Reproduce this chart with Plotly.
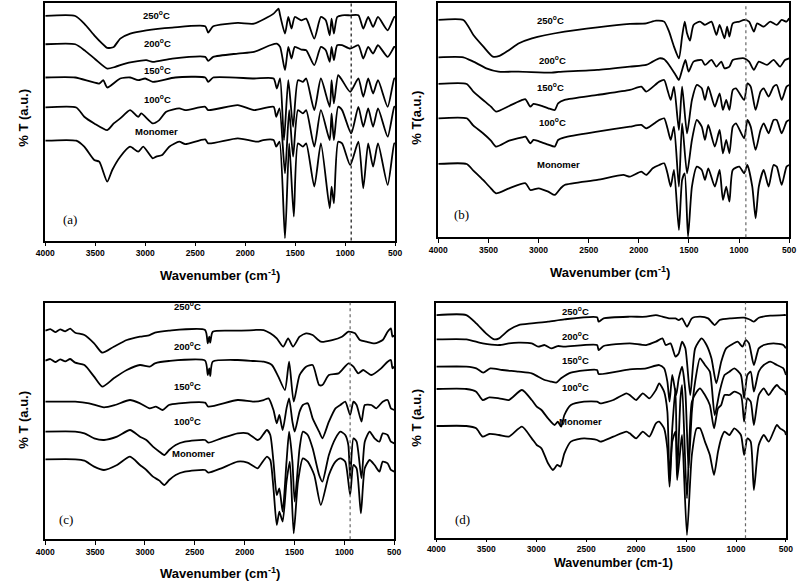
import plotly.graph_objects as go

# ---------------- data (wavenumber cm-1, %T in arbitrary units) ----------------
wn_ticks = [4000, 3500, 3000, 2500, 2000, 1500, 1000, 500]
label_texts = ["250<sup>o</sup>C", "200<sup>o</sup>C", "150<sup>o</sup>C", "100<sup>o</sup>C", "Monomer"]
panel_tags = ["(a)", "(b)", "(c)", "(d)"]
marker_wn = [940, 932, 942, 905]

# panel (a)
a_250 = [(4000,675),(3700,675),(3610,652),(3510,617),(3430,592),(3380,579),(3315,582),(3250,607),(3150,622),(2990,632),(2730,640),(2400,644),(2370,625),(2320,644),(2075,654),(1912,652),(1716,682),(1667,697),(1651,677),(1602,622),(1569,672),(1537,637),(1504,672),(1439,662),(1390,667),(1309,607),(1243,672),(1194,662),(1155,617),(1136,667),(1113,622),(1080,672),(1031,677),(950,677),(868,677),(819,637),(770,672),(721,642),(672,672),(575,632),(509,672),(500,672)]
a_200 = [(4000,590),(3700,590),(3600,570),(3500,545),(3380,517),(3300,522),(3200,532),(3120,537),(2990,542),(2925,537),(2730,547),(2400,552),(2370,540),(2320,552),(2075,562),(1912,567),(1750,587),(1684,592),(1651,582),(1602,512),(1569,582),(1537,547),(1504,582),(1439,574),(1390,572),(1309,527),(1243,582),(1194,572),(1155,537),(1136,582),(1113,542),(1080,587),(1031,587),(950,577),(868,587),(819,547),(770,582),(721,562),(672,587),(575,552),(509,582),(500,582)]
a_150 = [(4000,490),(3700,490),(3460,472),(3420,482),(3380,460),(3250,487),(3150,490),(3070,482),(3000,487),(2925,477),(2700,490),(2400,490),(2370,477),(2320,490),(1912,487),(1716,487),(1684,457),(1651,487),(1612,302),(1569,482),(1521,342),(1472,482),(1423,477),(1390,487),(1309,392),(1243,487),(1155,402),(1136,482),(1113,412),(1070,497),(1031,482),(950,447),(868,487),(819,432),(770,487),(721,442),(672,482),(575,402),(509,487),(500,487)]
a_100 = [(4000,400),(3690,400),(3610,372),(3510,352),(3380,332),(3315,352),(3250,367),(3152,392),(3070,372),(3040,382),(2925,352),(2860,362),(2790,387),(2660,397),(2600,392),(2400,402),(2370,392),(2075,407),(1912,392),(1716,402),(1690,372),(1657,397),(1602,202),(1560,392),(1521,252),(1472,392),(1423,382),(1390,392),(1309,282),(1243,392),(1155,302),(1136,382),(1113,302),(1070,402),(1031,392),(940,322),(868,402),(819,342),(770,397),(721,342),(672,397),(575,312),(509,402),(500,402)]
a_mon = [(4000,300),(3690,300),(3610,282),(3510,242),(3460,237),(3380,177),(3330,212),(3250,252),(3152,282),(3070,267),(3020,282),(2925,247),(2890,252),(2830,257),(2760,282),(2660,297),(2600,290),(2400,304),(2370,292),(2075,307),(1880,297),(1820,302),(1716,302),(1690,282),(1657,297),(1602,7),(1560,292),(1514,72),(1472,292),(1423,282),(1390,292),(1309,162),(1243,292),(1155,97),(1136,162),(1113,112),(1070,297),(1031,292),(950,227),(868,297),(819,157),(770,292),(721,222),(672,292),(575,167),(509,292),(500,292)]

# panel (b)
b_250 = [(4000,652),(3750,652),(3650,607),(3550,572),(3456,542),(3390,544),(3293,562),(3195,582),(3066,597),(2740,617),(2414,630),(2089,640),(1926,642),(1828,650),(1747,647),(1698,617),(1649,572),(1600,537),(1568,602),(1542,647),(1519,612),(1490,590),(1454,637),(1390,647),(1340,637),(1275,647),(1226,607),(1194,637),(1145,597),(1119,632),(1096,602),(1063,642),(998,647),(949,652),(900,647),(852,617),(819,642),(754,632),(689,647),(624,637),(575,652),(526,647),(500,657)]
b_200 = [(4000,540),(3750,540),(3650,527),(3521,507),(3400,497),(3200,497),(2870,494),(2800,496),(2414,502),(2089,512),(1926,517),(1861,527),(1796,537),(1747,534),(1698,517),(1633,487),(1600,472),(1568,502),(1535,532),(1503,497),(1454,527),(1372,532),(1340,517),(1275,532),(1226,512),(1177,527),(1145,507),(1096,512),(1063,532),(949,537),(900,527),(852,502),(803,527),(721,517),(656,532),(591,512),(542,532),(500,537)]
b_150 = [(4000,460),(3717,460),(3650,437),(3554,412),(3475,392),(3424,377),(3293,394),(3163,412),(3130,414),(3082,392),(3050,400),(2968,394),(2903,387),(2838,382),(2805,402),(2740,412),(2414,427),(2089,442),(1975,452),(1926,437),(1796,467),(1747,472),(1714,442),(1682,412),(1649,452),(1600,322),(1568,452),(1519,312),(1470,412),(1421,457),(1372,447),(1340,412),(1307,452),(1242,392),(1194,432),(1161,382),(1128,412),(1096,382),(1063,442),(1031,447),(949,412),(917,462),(884,452),(835,382),(786,437),(754,447),(705,422),(656,452),(624,457),(575,412),(526,452),(500,457)]
b_100 = [(4000,357),(3717,357),(3650,335),(3554,312),(3475,290),(3424,272),(3293,290),(3163,300),(3130,302),(3082,282),(3050,292),(2968,285),(2903,278),(2838,272),(2805,292),(2740,300),(2414,317),(2089,332),(1975,337),(1926,327),(1796,352),(1747,357),(1714,327),(1682,292),(1649,332),(1600,152),(1568,342),(1519,192),(1470,292),(1421,352),(1372,332),(1340,292),(1307,337),(1242,272),(1194,322),(1161,252),(1128,292),(1096,252),(1063,332),(1031,342),(949,297),(917,352),(884,332),(835,262),(786,322),(754,342),(705,312),(656,352),(624,352),(575,312),(526,347),(500,352)]
b_mon = [(4000,220),(3717,220),(3650,200),(3554,172),(3475,147),(3424,132),(3293,147),(3130,162),(3082,142),(3000,147),(2903,137),(2838,127),(2780,147),(2740,157),(2414,172),(2154,187),(2089,182),(1975,197),(1926,187),(1861,207),(1796,217),(1747,222),(1714,192),(1682,152),(1649,202),(1600,22),(1568,172),(1542,192),(1509,2),(1470,152),(1421,212),(1372,202),(1340,172),(1307,207),(1242,152),(1194,202),(1161,112),(1128,152),(1096,107),(1063,202),(998,212),(949,192),(917,217),(868,152),(835,57),(803,152),(754,202),(705,152),(656,217),(624,212),(575,157),(526,212),(500,217)]

# panel (c)
c_250 = [(4000,626),(3950,631),(3900,622),(3850,630),(3800,624),(3750,632),(3700,620),(3607,613),(3510,588),(3428,560),(3313,578),(3182,598),(3050,608),(2953,613),(2900,620),(2760,626),(2397,628),(2370,588),(2355,608),(2345,590),(2320,623),(2070,626),(1907,628),(1809,628),(1743,618),(1678,603),(1613,578),(1564,603),(1515,578),(1449,608),(1384,618),(1318,613),(1236,593),(1122,598),(1024,608),(958,623),(893,618),(844,598),(779,593),(697,588),(615,598),(566,623),(533,633),(517,608),(500,612)]
c_200 = [(4000,536),(3950,541),(3900,532),(3850,540),(3800,534),(3750,541),(3700,530),(3607,523),(3510,488),(3428,458),(3313,483),(3182,508),(3050,523),(2953,518),(2900,528),(2760,535),(2397,536),(2370,493),(2355,513),(2345,490),(2320,533),(2070,538),(1907,535),(1809,533),(1727,523),(1662,488),(1596,448),(1554,533),(1508,413),(1449,493),(1384,518),(1318,523),(1253,463),(1220,463),(1155,493),(1057,498),(958,528),(909,518),(860,498),(811,508),(730,493),(631,513),(566,533),(533,538),(517,513),(500,518)]
c_150 = [(4000,413),(3700,413),(3560,408),(3411,396),(3300,403),(3150,418),(3050,408),(2953,393),(2890,398),(2822,388),(2760,403),(2660,408),(2397,410),(2365,398),(2070,418),(1907,413),(1809,418),(1760,423),(1711,388),(1678,348),(1652,373),(1619,328),(1580,393),(1554,423),(1521,353),(1498,323),(1449,383),(1416,403),(1367,408),(1318,363),(1253,323),(1220,303),(1155,353),(1089,393),(1040,403),(991,413),(942,373),(909,413),(877,403),(828,353),(795,403),(729,403),(680,393),(615,413),(566,418),(533,393),(500,388)]
c_100 = [(4000,323),(3700,323),(3607,318),(3510,303),(3411,298),(3280,308),(3150,328),(3050,308),(2986,298),(2920,278),(2855,263),(2806,253),(2757,268),(2692,283),(2600,293),(2397,298),(2365,290),(2234,303),(2070,318),(1972,318),(1870,298),(1842,303),(1776,328),(1743,313),(1711,233),(1678,133),(1652,153),(1619,83),(1580,233),(1554,323),(1521,233),(1498,113),(1449,273),(1416,323),(1367,313),(1318,273),(1253,193),(1220,173),(1155,253),(1089,303),(1040,323),(991,313),(960,283),(942,183),(909,303),(877,293),(828,183),(795,293),(746,323),(697,303),(648,293),(615,318),(566,313),(533,293),(500,288)]
c_mon = [(4000,240),(3700,240),(3607,236),(3510,218),(3411,208),(3280,223),(3150,248),(3050,223),(2986,208),(2920,188),(2855,176),(2806,163),(2757,178),(2692,193),(2600,203),(2397,208),(2365,200),(2234,213),(2070,233),(1972,230),(1870,213),(1842,223),(1776,248),(1743,238),(1711,153),(1678,43),(1652,83),(1619,53),(1580,173),(1547,233),(1508,18),(1465,173),(1416,243),(1367,233),(1302,193),(1236,103),(1155,193),(1089,233),(1040,243),(991,233),(942,133),(909,223),(877,213),(834,78),(795,213),(746,238),(697,223),(648,203),(615,233),(566,228),(533,208),(500,203)]

# panel (d)
d_250 = [(4000,670),(3700,670),(3601,645),(3503,615),(3421,597),(3372,600),(3274,625),(3176,640),(3045,645),(2882,650),(2718,657),(2391,663),(2375,650),(2325,660),(2064,665),(1900,665),(1802,670),(1736,665),(1671,660),(1606,660),(1573,655),(1540,660),(1491,635),(1442,660),(1360,665),(1279,660),(1213,640),(1164,655),(1049,660),(919,662),(853,655),(821,650),(772,662),(657,668),(526,670),(500,670)]
d_200 = [(4000,597),(3700,597),(3536,585),(3372,580),(3274,585),(3176,587),(3045,585),(2980,575),(2915,580),(2849,570),(2784,577),(2718,575),(2391,580),(2375,565),(2325,577),(2064,585),(1900,580),(1802,590),(1736,600),(1704,580),(1655,585),(1606,545),(1573,555),(1540,590),(1507,570),(1458,430),(1409,570),(1344,600),(1295,580),(1246,540),(1197,465),(1148,530),(1099,570),(1050,580),(984,590),(935,575),(902,595),(870,585),(821,520),(772,570),(722,580),(624,585),(526,580),(500,570)]
d_150 = [(4000,515),(3700,515),(3600,510),(3530,497),(3460,510),(3340,505),(3176,500),(3045,495),(2980,485),(2915,475),(2849,470),(2800,467),(2751,480),(2653,497),(2391,505),(2375,493),(2064,507),(1900,510),(1769,520),(1720,510),(1687,470),(1665,410),(1638,490),(1599,430),(1573,480),(1540,515),(1507,440),(1475,210),(1442,380),(1409,470),(1360,540),(1311,520),(1262,500),(1213,370),(1164,440),(1115,490),(1066,500),(1017,510),(951,490),(919,420),(886,490),(853,500),(821,440),(772,500),(722,520),(657,530),(591,520),(526,510),(500,490)]
d_100 = [(4000,448),(3700,448),(3601,440),(3536,415),(3470,423),(3372,420),(3274,415),(3143,445),(3045,415),(2995,395),(2948,385),(2882,360),(2816,340),(2784,350),(2751,335),(2718,370),(2653,400),(2522,410),(2391,410),(2358,405),(2228,415),(2097,435),(2064,430),(2000,415),(1933,435),(1867,420),(1802,445),(1769,465),(1720,440),(1687,380),(1665,170),(1638,330),(1606,450),(1589,190),(1556,420),(1540,460),(1491,120),(1442,410),(1393,440),(1360,450),(1311,430),(1262,400),(1220,330),(1180,390),(1148,400),(1115,430),(1066,430),(1017,440),(951,430),(919,350),(886,420),(853,410),(821,340),(772,430),(722,450),(673,430),(624,450),(591,460),(559,450),(510,440),(500,430)]
d_mon = [(4000,337),(3700,337),(3601,330),(3536,305),(3470,313),(3372,310),(3274,305),(3143,335),(3045,300),(2995,280),(2948,270),(2882,225),(2832,205),(2790,220),(2757,215),(2718,255),(2653,290),(2522,300),(2391,295),(2358,290),(2228,305),(2097,320),(2064,315),(2000,300),(1933,320),(1867,305),(1802,345),(1769,350),(1720,330),(1687,270),(1665,155),(1638,290),(1606,320),(1589,175),(1556,270),(1540,310),(1491,10),(1442,250),(1393,330),(1360,330),(1311,290),(1262,250),(1220,190),(1180,260),(1148,300),(1115,320),(1066,310),(1017,330),(951,310),(919,250),(886,300),(853,290),(821,145),(772,280),(722,310),(673,290),(624,320),(591,340),(559,330),(510,320),(500,310)]

panel_series = [
    [a_250, a_200, a_150, a_100, a_mon],
    [b_250, b_200, b_150, b_100, b_mon],
    [c_250, c_200, c_150, c_100, c_mon],
    [d_250, d_200, d_150, d_100, d_mon],
]

# ---------------- layout config ----------------
W, H = 805, 584
# plot boxes in pixels: left, right, top, bottom
boxes = [(37, 394, 3, 240.5), (438, 796, 3.3, 237.3), (37, 393, 302.7, 539.3), (436, 792.7, 302.7, 538.3)]
y_ranges = [[0, 714], [0, 702], [0, 710], [0, 707]]
label_pos = [
    ([2884, 2875, 2875, 2875, 2884], [677, 594, 514, 424, 327]),
    ([2880, 2864, 2880, 2864, 2805], [652, 532, 452, 347, 217]),
    ([2577, 2577, 2577, 2577, 2512], [700, 580, 460, 355, 258]),
    ([2603, 2603, 2603, 2603, 2554], [683, 607, 535, 453, 350]),
]
tag_pos = [(3755, 62), (3772, 69), (3787, 60), (3742, 57)]
xtitles = ["Wavenumber (cm<sup>-1</sup>)", "Wavenumber (cm<sup>-1</sup>)",
           "Wavenumber (cm<sup>-1</sup>)", "Wavenumber (cm-1)"]
xtitle_px = [(215, 275), (613, 272), (215, 573), (617, 563)]
xtitle_size = [13, 13, 13, 12.5]
ytitles = ["% T (a.u.)", "% T(a.u.)", "% T (a.u.)", "% T (a.u.)"]
ytitle_px = [(14, 118), (415, 118), (14, 420), (415, 418)]
tick_len = [4, 4, 4, 2]
marker_color = ["#111111", "#666666", "#666666", "#666666"]

SANS = "Liberation Sans, Arial, sans-serif"
SERIF = "Liberation Serif, Times New Roman, serif"

fig = go.Figure()
annotations = []
shapes = []
layout_axes = {}


def ann(**kw):
    kw.setdefault("xanchor", "center")
    kw.setdefault("yanchor", "middle")
    kw.setdefault("showarrow", False)
    annotations.append(kw)


for i in range(4):
    xa = "x" if i == 0 else f"x{i+1}"
    ya = "y" if i == 0 else f"y{i+1}"
    l, r, t, b = boxes[i]
    layout_axes["xaxis" if i == 0 else f"xaxis{i+1}"] = dict(
        domain=[l / W, r / W], anchor=ya, range=[4000, 500],
        tickvals=wn_ticks, ticktext=[str(v) for v in wn_ticks],
        ticks="outside", ticklen=tick_len[i], tickwidth=1.2, tickcolor="black",
        showline=True, linecolor="black", linewidth=1.5, mirror=True,
        showgrid=False, zeroline=False,
        tickfont=dict(family=SANS, size=8.5, color="black", weight="bold"),
    )
    layout_axes["yaxis" if i == 0 else f"yaxis{i+1}"] = dict(
        domain=[1 - b / H, 1 - t / H], anchor=xa, range=y_ranges[i],
        showticklabels=False, ticks="", showline=True, linecolor="black",
        linewidth=1.5, mirror=True, showgrid=False, zeroline=False,
    )
    for s in panel_series[i]:
        xs = [p[0] for p in s]
        ys = [p[1] for p in s]
        fig.add_trace(go.Scatter(x=xs, y=ys, mode="lines", xaxis=xa, yaxis=ya,
                                 line=dict(color="black", width=1.8, shape="spline", smoothing=0.6),
                                 showlegend=False, hoverinfo="skip"))
    # series labels
    lx, ly = label_pos[i]
    for txt, x, y in zip(label_texts, lx, ly):
        ann(x=x, y=y, xref=xa, yref=ya, text=f"<b>{txt}</b>",
            font=dict(family=SANS, size=9.5, color="black"))
    ann(x=tag_pos[i][0], y=tag_pos[i][1], xref=xa, yref=ya, text=panel_tags[i],
        font=dict(family=SERIF, size=13, color="black"))
    ann(x=xtitle_px[i][0] / W, y=1 - xtitle_px[i][1] / H, xref="paper", yref="paper",
        text=f"<b>{xtitles[i]}</b>", font=dict(family=SANS, size=xtitle_size[i], color="black"))
    ann(x=ytitle_px[i][0] / W, y=1 - ytitle_px[i][1] / H, xref="paper", yref="paper",
        text=f"<b>{ytitles[i]}</b>", textangle=-90,
        font=dict(family=SANS, size=13, color="black"))
    shapes.append(dict(type="line", xref=xa, yref=f"{ya} domain", x0=marker_wn[i], x1=marker_wn[i],
                       y0=0, y1=1, line=dict(color=marker_color[i], width=1.2, dash="dot")))

fig.update_layout(width=W, height=H, margin=dict(l=0, r=0, t=0, b=0),
                  paper_bgcolor="white", plot_bgcolor="white",
                  annotations=annotations, shapes=shapes, **layout_axes)

fig.write_html("out.html", config={"displayModeBar": False},
               post_script="document.body.style.margin='0';document.body.style.overflow='hidden';")
